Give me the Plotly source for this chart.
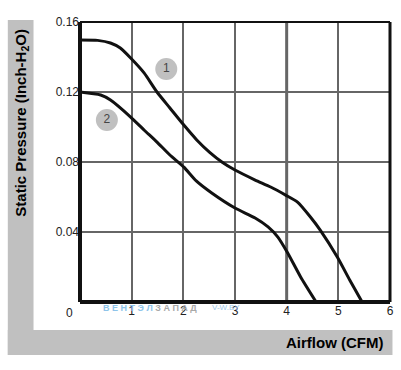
import plotly.graph_objects as go

# ---- data ----
airflow_1 = [0, 0.34, 0.59, 0.78, 0.98, 1.24, 1.49, 1.74, 2.01, 2.26, 2.51, 2.76, 3.0, 3.39, 3.69, 3.98, 4.21, 4.46, 4.65, 4.98, 5.22, 5.46]
pressure_1 = [0.1497, 0.1495, 0.148, 0.1451, 0.1394, 0.1309, 0.120, 0.1109, 0.1011, 0.0926, 0.0855, 0.0797, 0.0754, 0.0697, 0.0657, 0.0611, 0.0571, 0.0486, 0.0411, 0.0257, 0.0126, 0.0]
airflow_2 = [0, 0.40, 0.59, 0.98, 1.24, 1.49, 1.74, 2.01, 2.25, 2.55, 3.0, 3.39, 3.64, 3.83, 4.02, 4.27, 4.57]
pressure_2 = [0.120, 0.1183, 0.1154, 0.1057, 0.0983, 0.0914, 0.0840, 0.0771, 0.0692, 0.0623, 0.0537, 0.0480, 0.0429, 0.0371, 0.0280, 0.0143, 0.0]
label_x = [1.67, 0.52]
label_y = [0.1331, 0.104]
label_text = ["1", "2"]
x_ticks = [1, 2, 3, 4, 5, 6]
y_ticks = [0.04, 0.08, 0.12, 0.16]
y_tick_text = ["0.04", "0.08", "0.12", "0.16"]

W, H = 401, 370
L, R, T, B = 80, 393.5, 22, 302

def px(x):
    return (x - L) / (R - L)

def py(y):
    return (B - y) / (B - T)

fig = go.Figure()
for xs, ys in [(airflow_1, pressure_1), (airflow_2, pressure_2)]:
    fig.add_trace(go.Scatter(x=xs, y=ys, mode="lines",
                             line=dict(color="#111111", width=3, shape="spline", smoothing=0.6),
                             hoverinfo="skip", showlegend=False))
fig.add_trace(go.Scatter(x=label_x, y=label_y, mode="markers+text", text=label_text,
                         textposition="middle center",
                         textfont=dict(family="Liberation Sans, Arial", size=12, color="#444444"),
                         marker=dict(size=22, color="#c0c0c0", line=dict(width=0)),
                         hoverinfo="skip", showlegend=False))

shapes = [
    dict(type="rect", xref="paper", yref="paper", x0=px(7), x1=px(33), y0=py(355), y1=py(20),
         fillcolor="#c0c0c0", line=dict(width=0), layer="below"),
    dict(type="rect", xref="paper", yref="paper", x0=px(7), x1=px(396), y0=py(355), y1=py(330),
         fillcolor="#c0c0c0", line=dict(width=0), layer="below"),
    dict(type="line", xref="x", yref="paper", x0=4, x1=4, y0=0, y1=1,
         line=dict(color="#666666", width=3), layer="below"),
    dict(type="line", xref="paper", yref="paper", x0=0, x1=0, y0=0, y1=1, line=dict(color="#111111", width=4)),
    dict(type="line", xref="paper", yref="paper", x0=0, x1=1, y0=0, y1=0, line=dict(color="#111111", width=4)),
    dict(type="line", xref="paper", yref="paper", x0=1, x1=1, y0=0, y1=1, line=dict(color="#111111", width=3)),
    dict(type="line", xref="paper", yref="paper", x0=0, x1=1, y0=1, y1=1, line=dict(color="#111111", width=2)),
]

annotations = [
    dict(text="<b>Static Pressure (Inch-H<sub>2</sub>O)</b>", xref="paper", yref="paper",
         x=px(20), y=py(123), textangle=-90, showarrow=False,
         font=dict(family="Liberation Sans, Arial", size=15, color="#000000"), xanchor="center", yanchor="middle"),
    dict(text="<b>Airflow (CFM)</b>", xref="paper", yref="paper",
         x=px(388), y=py(342), showarrow=False, xanchor="right", yanchor="middle",
         font=dict(family="Liberation Sans, Arial", size=15, color="#000000")),
    dict(text="0", xref="paper", yref="paper", x=px(69), y=py(313), showarrow=False,
         xanchor="center", yanchor="middle", font=dict(family="Liberation Sans, Arial", size=12, color="#222222")),
    dict(text="<b><span style='color:#8ec4ea'>В Е Н Т Э Л</span> <span style='color:#a8a8a8'>З А П А Д</span></b>",
         xref="paper", yref="paper", x=px(101), y=py(308), showarrow=False, xanchor="left", yanchor="middle",
         font=dict(family="Liberation Sans, Arial", size=9)),
    dict(text="V-W.BY", xref="paper", yref="paper", x=px(211), y=py(307), showarrow=False,
         xanchor="left", yanchor="middle", font=dict(family="Liberation Sans, Arial", size=8, color="#9cc8ea")),
]

fig.update_layout(
    width=W, height=H,
    margin=dict(l=L, r=W - R, t=T, b=H - B),
    paper_bgcolor="white", plot_bgcolor="white",
    shapes=shapes, annotations=annotations,
    xaxis=dict(range=[0, 6], tickvals=x_ticks, ticktext=[str(v) for v in x_ticks],
               showgrid=True, gridcolor="#666666", gridwidth=2, zeroline=False, showline=False,
               ticks="", tickfont=dict(family="Liberation Sans, Arial", size=12, color="#222222"),
               fixedrange=True),
    yaxis=dict(range=[0, 0.16], tickvals=y_ticks, ticktext=y_tick_text,
               showgrid=True, gridcolor="#666666", gridwidth=2, zeroline=False, showline=False,
               ticks="", tickfont=dict(family="Liberation Sans, Arial", size=12, color="#222222"),
               fixedrange=True),
)

fig.write_html("out.html", config={"displayModeBar": False},
               post_script="document.body.style.margin='0px';")
